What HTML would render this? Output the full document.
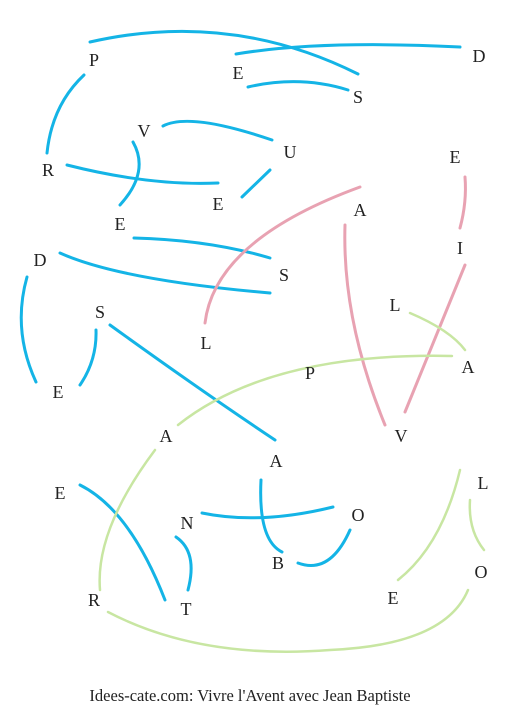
<!DOCTYPE html>
<html><head><meta charset="utf-8"><style>
html,body{margin:0;padding:0;background:#fff}
svg{display:block}
text{font-family:"Liberation Serif",serif;font-size:18px;fill:#222}
</style></head><body>
<svg width="529" height="711" viewBox="0 0 529 711">
<g fill="none" stroke-width="3" stroke-linecap="round" stroke="#14b4e6">
<path d="M90,42 Q230,10 358,74"/>
<path d="M236,54 Q320,40 460,47"/>
<path d="M248,87 Q300,75 348,90"/>
<path d="M84,75 Q52,105 47,153"/>
<path d="M163,126 Q190,112 272,140"/>
<path d="M67,165 Q150,186 218,183"/>
<path d="M133,142 Q150,172 120,205"/>
<path d="M242,197 L270,170"/>
<path d="M134,238 Q210,240 270,258"/>
<path d="M60,253 Q120,280 270,293"/>
<path d="M27,277 Q12,330 36,382"/>
<path d="M96,330 Q97,360 80,385"/>
<path d="M110,325 Q200,390 275,440"/>
<path d="M80,485 Q130,510 165,600"/>
<path d="M176,537 Q198,552 188,590"/>
<path d="M202,513 Q260,525 333,507"/>
<path d="M261,480 Q258,540 282,552"/>
<path d="M298,563 Q330,575 350,530"/>
</g>
<g fill="none" stroke-width="3" stroke-linecap="round" stroke="#e8a2b2">
<path d="M205,323 Q215,240 360,187"/>
<path d="M345,225 Q342,320 385,425"/>
<path d="M465,177 Q467,202 460,228"/>
<path d="M465,265 L405,412"/>
</g>
<g fill="none" stroke-width="2.5" stroke-linecap="round" stroke="#c8e6a2">
<path d="M410,313 Q450,330 465,350"/>
<path d="M452,356 Q270,352 178,425"/>
<path d="M155,450 Q95,530 100,590"/>
<path d="M108,612 Q200,660 330,650 Q445,645 468,590"/>
<path d="M460,470 Q442,545 398,580"/>
<path d="M470,500 Q468,530 484,550"/>
</g>
<g text-anchor="middle">
<text x="94" y="66">P</text><text x="238" y="79">E</text><text x="358" y="103">S</text><text x="479" y="62">D</text>
<text x="144" y="137">V</text><text x="290" y="158">U</text><text x="48" y="176">R</text><text x="218" y="210">E</text>
<text x="455" y="163">E</text><text x="120" y="230">E</text><text x="360" y="216">A</text><text x="460" y="254">I</text>
<text x="40" y="266">D</text><text x="284" y="281">S</text><text x="395" y="311">L</text><text x="100" y="318">S</text>
<text x="206" y="349">L</text><text x="468" y="373">A</text><text x="310" y="379">P</text><text x="58" y="398">E</text>
<text x="166" y="442">A</text><text x="401" y="442">V</text><text x="276" y="467">A</text><text x="60" y="499">E</text>
<text x="483" y="489">L</text><text x="187" y="529">N</text><text x="358" y="521">O</text><text x="278" y="569">B</text>
<text x="481" y="578">O</text><text x="94" y="606">R</text><text x="186" y="615">T</text><text x="393" y="604">E</text>
</g>
<text x="250" y="701" text-anchor="middle" style="font-size:16.5px">Idees-cate.com: Vivre l'Avent avec Jean Baptiste</text>
</svg>
</body></html>
